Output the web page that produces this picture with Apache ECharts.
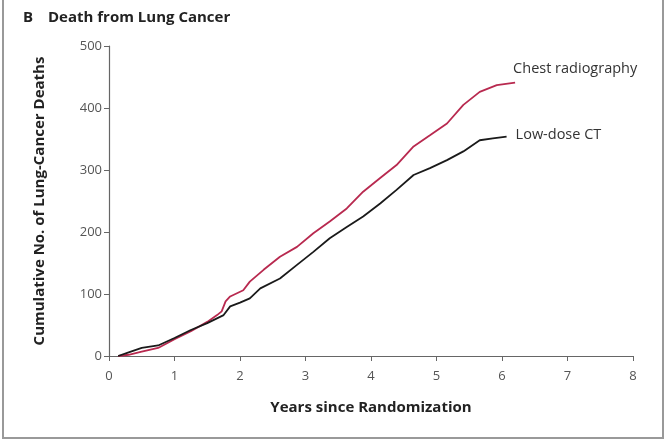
<!DOCTYPE html>
<html>
<head>
<meta charset="utf-8">
<script src="https://cdn.jsdelivr.net/npm/echarts@6/dist/echarts.min.js"></script>
<style>
html,body{margin:0;padding:0;background:#fff;}
#chart{width:667px;height:442px;}
</style>
</head>
<body>
<div id="chart"></div>
<script>
var titleText = 'Death from Lung Cancer';
var panelLetter = 'B';
var xTicks = [0, 1, 2, 3, 4, 5, 6, 7, 8];
var yTicks = [0, 100, 200, 300, 400, 500];
var seriesNames = ['Chest radiography', 'Low-dose CT'];

var radiographyYears = [0.14, 0.3, 0.5, 0.75, 1.0, 1.25, 1.5, 1.65, 1.72, 1.78, 1.85, 2.05, 2.15, 2.36, 2.61, 2.87, 3.12, 3.37, 3.63, 3.88, 4.14, 4.39, 4.65, 4.9, 5.16, 5.41, 5.66, 5.92, 6.2];
var radiographyDeaths = [0, 2, 7, 13, 27, 40, 55, 66, 72, 88, 96, 106, 120, 139, 160, 176, 198, 217, 238, 265, 287, 308, 338, 356, 375, 405, 426, 437, 441];

var ctYears = [0.14, 0.3, 0.5, 0.75, 1.0, 1.25, 1.5, 1.75, 1.85, 2.0, 2.15, 2.31, 2.61, 2.87, 3.12, 3.37, 3.63, 3.88, 4.14, 4.39, 4.65, 4.9, 5.16, 5.41, 5.66, 5.86, 6.07];
var ctDeaths = [0, 6, 13, 17, 29, 42, 53, 66, 80, 86, 93, 109, 125, 147, 168, 190, 208, 225, 246, 268, 292, 303, 316, 330, 348, 351, 354];

function pairs(xs, ys) { return xs.map(function (x, i) { return [x, ys[i]]; }); }

var chart = echarts.init(document.getElementById('chart'), null, {renderer: 'canvas'});
var font = '"Open Sans", "Noto Sans", sans-serif';
chart.setOption({
  backgroundColor: '#fff',
  animation: false,
  textStyle: {fontFamily: font},
  grid: {left: 109, right: 34, top: 46, bottom: 86},
  graphic: [
    {type: 'text', left: 23, top: 10, style: {text: panelLetter, font: 'bold 15px ' + font, fill: '#222'}},
    {type: 'text', left: 48, top: 10, style: {text: titleText, font: 'bold 15px ' + font, fill: '#222'}},
    {type: 'polyline', shape: {points: [[3, 0], [3, 438], [663, 438], [663, 0]]}, style: {stroke: '#999', lineWidth: 2, fill: null}}
  ],
  xAxis: {
    type: 'value', min: 0, max: 8, interval: 1,
    name: 'Years since Randomization', nameLocation: 'middle', nameGap: 44,
    nameTextStyle: {fontSize: 15, fontWeight: 'bold', color: '#222', fontFamily: font},
    axisLine: {lineStyle: {color: '#666', width: 1.2}},
    axisTick: {show: true, length: 5, lineStyle: {color: '#666'}},
    axisLabel: {fontSize: 13, color: '#555', margin: 14, fontFamily: font},
    splitLine: {show: false}
  },
  yAxis: {
    type: 'value', min: 0, max: 500, interval: 100,
    name: 'Cumulative No. of Lung-Cancer Deaths', nameLocation: 'middle', nameGap: 62,
    nameTextStyle: {fontSize: 15, fontWeight: 'bold', color: '#222', fontFamily: font},
    axisLine: {show: true, lineStyle: {color: '#666', width: 1.2}},
    axisTick: {show: true, length: 5, lineStyle: {color: '#666'}},
    axisLabel: {fontSize: 13, color: '#555', margin: 7, fontFamily: font},
    splitLine: {show: false}
  },
  series: [
    {
      name: seriesNames[0], type: 'line', data: pairs(radiographyYears, radiographyDeaths),
      showSymbol: false, symbol: 'none', lineStyle: {color: '#b8294f', width: 1.8}, itemStyle: {color: '#b8294f'},
      endLabel: {show: true, formatter: '{a}', offset: [-10, -14], fontSize: 14.5, color: '#333', fontFamily: font}
    },
    {
      name: seriesNames[1], type: 'line', data: pairs(ctYears, ctDeaths),
      showSymbol: false, symbol: 'none', lineStyle: {color: '#1a1a1a', width: 1.8}, itemStyle: {color: '#1a1a1a'},
      endLabel: {show: true, formatter: '{a}', offset: [1, -2], fontSize: 14.5, color: '#333', fontFamily: font}
    }
  ]
});
</script>
</body>
</html>
